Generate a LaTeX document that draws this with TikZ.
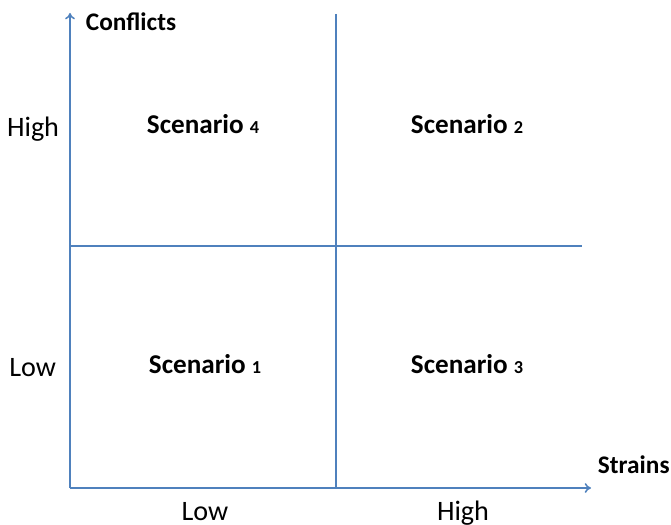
\documentclass[tikz,border=0pt]{standalone}
\usepackage{fontspec}
\setmainfont{Carlito}
\usetikzlibrary{positioning,arrows,arrows.meta}
\definecolor{lineblue}{RGB}{79,129,189}
\tikzset{
	axis/.style  = {draw=lineblue, line width=1.1pt, -{To[length=4.5pt,width=7pt]}},
	split/.style = {draw=lineblue, line width=1.1pt},
	scen/.style  = {font=\bfseries\fontsize{19.3}{22}\selectfont, anchor=base},
	level/.style = {font=\fontsize{20}{24}\selectfont, anchor=base},
	title/.style = {font=\bfseries\fontsize{18}{21}\selectfont, anchor=base west}
}
\newcommand{\scnum}[1]{{\fontsize{13}{15}\selectfont #1}}

\begin{document}
\begin{tikzpicture}[x=0.025cm, y=-0.025cm]
    \useasboundingbox (0,0) rectangle (671,525);

    % axes and quadrant lines
    \coordinate (origin) at (70,488);
    \coordinate (ytop)   at (70,13);
    \coordinate (xend)   at (591,488);
    \coordinate (vtop)   at (336,14);
    \coordinate (vbot)   at (336,488);
    \coordinate (hleft)  at (70,246);
    \coordinate (hright) at (582,246);

    \draw [axis] (origin) -- (ytop);
    \draw [axis] (origin) -- (xend);
    \draw [split] (vtop) -- (vbot);
    \draw [split] (hleft) -- (hright);

    % axis titles
    \node [title] (conflicts) at (81,31) {Conflicts};
    \node [title] (strains) at (593,473) {Strains};

    % levels
    \node [level, anchor=base east] (yhigh) at (64,137) {High};
    \node [level, anchor=base east] (ylow) at (61,376) {Low};
    \node [level] (xlow) at (205,520) {Low};
    \node [level] (xhigh) at (463,520) {High};

    % quadrants
    \node [scen] (scen4) at (203,134) {Scenario \scnum{4}};
    \node [scen] (scen2) at (467,134) {Scenario \scnum{2}};
    \node [scen] (scen1) at (205,373) {Scenario \scnum{1}};
    \node [scen] (scen3) at (467,373) {Scenario \scnum{3}};
\end{tikzpicture}
\end{document}
